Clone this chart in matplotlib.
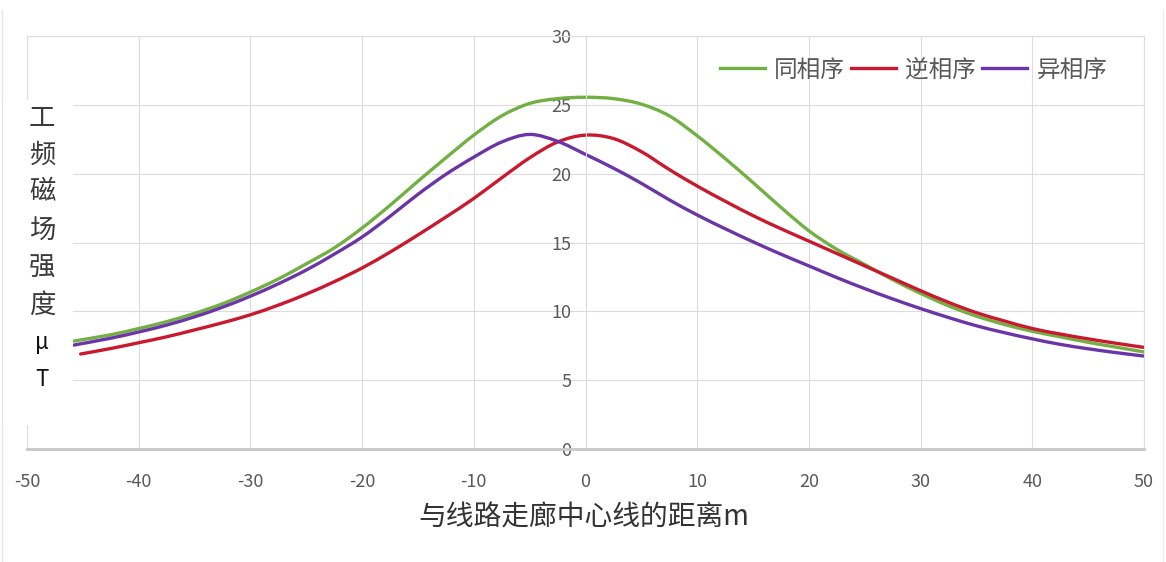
import matplotlib
matplotlib.use('Agg')
import matplotlib.pyplot as plt
import numpy as np
from matplotlib.lines import Line2D
from matplotlib.patches import PathPatch, Rectangle
from matplotlib.path import Path

plt.rcParams['font.family'] = ['Noto Sans CJK SC', 'DejaVu Sans']
plt.rcParams['axes.unicode_minus'] = False

# distance from the corridor centre line (m)
dist_a = [-45.8, -42.5, -40, -37.5, -35, -32.5, -30, -27.5, -25, -22.5, -20,
          -17.5, -15, -12.5, -10, -7.5, -5, -2.5, 0, 2.5, 5, 7.5, 10, 12.5,
          15, 17.5, 20, 22.5, 25, 27.5, 30, 32.5, 35, 37.5, 40, 42.5, 45,
          47.5, 50]
dist_b = [-45.2, -42.5, -40, -37.5, -35, -32.5, -30, -27.5, -25, -22.5, -20,
          -17.5, -15, -12.5, -10, -7.5, -5, -2.5, 0, 2.5, 5, 7.5, 10, 12.5,
          15, 17.5, 20, 22.5, 25, 27.5, 30, 32.5, 35, 37.5, 40, 42.5, 45,
          47.5, 50]

# field strength (uT)
same_phase = [7.84, 8.3, 8.75, 9.25, 9.85, 10.55, 11.4, 12.35, 13.45, 14.6,
              16.05, 17.7, 19.45, 21.15, 22.8, 24.2, 25.1, 25.45, 25.55,
              25.45, 25.05, 24.2, 22.75, 21.1, 19.35, 17.55, 15.85, 14.5,
              13.4, 12.3, 11.3, 10.4, 9.65, 9.05, 8.55, 8.15, 7.75, 7.4, 7.05]
reverse_phase = [6.9, 7.3, 7.72, 8.15, 8.65, 9.17, 9.75, 10.45, 11.25, 12.15,
                 13.15, 14.3, 15.55, 16.85, 18.2, 19.7, 21.15, 22.3, 22.8,
                 22.55, 21.6, 20.3, 19.1, 18.0, 16.95, 16.0, 15.1, 14.2,
                 13.3, 12.4, 11.5, 10.65, 9.9, 9.3, 8.75, 8.35, 8.0, 7.68,
                 7.38]
diff_phase = [7.55, 8.05, 8.5, 9.0, 9.6, 10.3, 11.1, 12.0, 13.0, 14.15, 15.4,
              16.9, 18.5, 19.95, 21.2, 22.3, 22.85, 22.35, 21.4, 20.4, 19.3,
              18.1, 17.0, 16.0, 15.05, 14.15, 13.3, 12.45, 11.65, 10.9,
              10.2, 9.55, 8.95, 8.45, 8.0, 7.6, 7.28, 7.0, 6.75]

series_names = ['同相序', '逆相序', '异相序']
series_colors = ['#72b043', '#c8192f', '#6b35a8']
ylabel_chars = ['工', '频', '磁', '场', '强', '度', 'μ', 'T']
xlabel_text = '与线路走廊中心线的距离m'


def smooth_path(xs, ys):
    # Excel-style smoothed line: cubic Bezier pieces through every point
    pts = np.column_stack([xs, ys])
    n = len(pts)
    verts = [pts[0]]
    codes = [Path.MOVETO]
    for i in range(n - 1):
        p0 = pts[max(i - 1, 0)]
        p1 = pts[i]
        p2 = pts[i + 1]
        p3 = pts[min(i + 2, n - 1)]
        verts += [p1 + (p2 - p0) / 6, p2 - (p3 - p1) / 6, p2]
        codes += [Path.CURVE4] * 3
    return Path(verts, codes)


W, H = 1166, 562
fig = plt.figure(figsize=(W / 100, H / 100), dpi=100)
ax = fig.add_axes([27 / W, 1 - 449 / H, (1144 - 27) / W, (449 - 36) / H])

handles = []
for xs, ys, col, name in zip([dist_a, dist_b, dist_a],
                             [same_phase, reverse_phase, diff_phase],
                             series_colors, series_names):
    ax.add_patch(PathPatch(smooth_path(xs, ys), fill=False, edgecolor=col,
                           lw=2.4, capstyle='round', joinstyle='round'))
    handles.append(Line2D([], [], color=col, lw=2.4, label=name))

ax.set_xlim(-50, 50)
ax.set_ylim(0, 30)
ax.set_xticks(range(-50, 51, 10))
ax.set_yticks(range(0, 31, 5))
ax.grid(color='#dcdcdc', lw=0.8)
ax.set_axisbelow(True)

ax.spines['left'].set_position(('data', 0))
ax.spines['left'].set_color('#dcdcdc')
ax.spines['left'].set_linewidth(0.8)
for s in ['top', 'right']:
    ax.spines[s].set_color('#dcdcdc')
    ax.spines[s].set_linewidth(0.8)
ax.spines['bottom'].set_color('#c8c8c8')
ax.spines['bottom'].set_linewidth(2)
# left frame edge of the plot area
ax.add_line(Line2D([0, 0], [0, 1], transform=ax.transAxes, color='#dcdcdc',
                   lw=0.8, clip_on=False, zorder=0))

ax.tick_params(axis='x', length=0, pad=17, labelsize=13, labelcolor='#595959')
ax.tick_params(axis='y', length=0, pad=10, labelsize=13, labelcolor='#595959')

leg = ax.legend(handles=handles, loc='center right',
                bbox_to_anchor=(0.967, 0.918), ncol=3, frameon=False,
                fontsize=17, handlelength=1.9, handletextpad=0.4,
                columnspacing=0.25, borderaxespad=0, borderpad=0)
for t in leg.get_texts():
    t.set_color('#595959')

# white box behind the stacked y label, as in the source chart
fig.add_artist(Rectangle((3 / W, 1 - 425 / H), 70 / W, 325 / H,
                         transform=fig.transFigure, facecolor='white',
                         edgecolor='none', zorder=3))
ypos = [118, 155, 192, 230, 268, 305, 343, 380]
for ch, yp in zip(ylabel_chars, ypos):
    if ch in ('μ', 'T'):
        fig.text(42 / W, 1 - yp / H, ch, ha='center', va='center',
                 fontsize=16, color='#111111', fontweight='medium', zorder=4)
    else:
        fig.text(42 / W, 1 - yp / H, ch, ha='center', va='center',
                 fontsize=19, color='#3a3a3a', fontweight='light', zorder=4)

fig.text(584 / W, 1 - 518 / H, xlabel_text, ha='center', va='center',
         fontsize=20, color='#333333')

# faint outer chart border
fig.add_artist(Line2D([2 / W, 2 / W], [0, 1 - 10 / H],
                      transform=fig.transFigure, color='#e6e6e6', lw=1))
fig.add_artist(Line2D([1163 / W, 1163 / W], [0, 1 - 10 / H],
                      transform=fig.transFigure, color='#eeeeee', lw=1))

fig.savefig('out.png', dpi=100)
